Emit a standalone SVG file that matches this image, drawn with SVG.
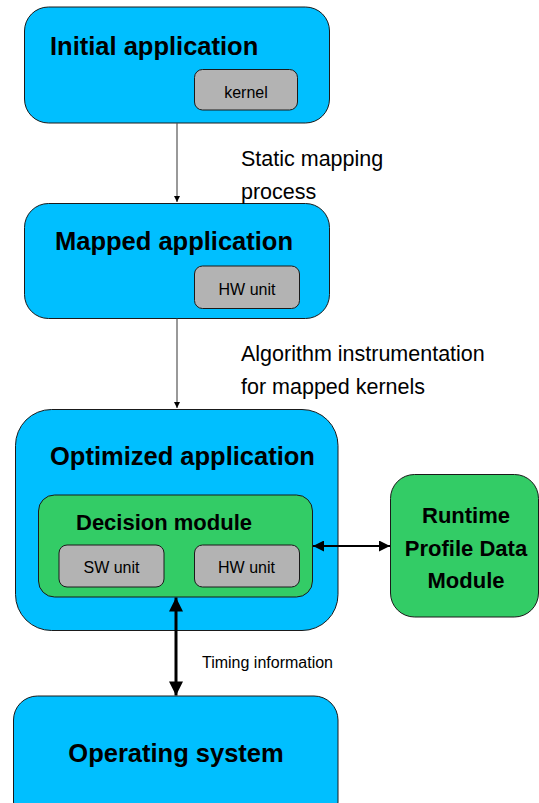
<svg xmlns="http://www.w3.org/2000/svg" width="539" height="803" viewBox="0 0 539 803">
<style>
.blue{fill:#00bfff;stroke:#1a1a1a;stroke-width:1}
.green{fill:#33cc66;stroke:#1a1a1a;stroke-width:1}
.gray{fill:#b3b3b3;stroke:#1a1a1a;stroke-width:1}
text{font-family:"Liberation Sans",Arial,Helvetica,sans-serif;fill:#000}
.title{font-size:25.5px;font-weight:bold}
.sub{font-size:22px;font-weight:bold}
.small{font-size:16px}
.label{font-size:21.5px}
</style>
<defs>
<marker id="thin" viewBox="0 0 10 10" refX="10" refY="5" markerWidth="6" markerHeight="10" markerUnits="userSpaceOnUse" orient="auto">
<path d="M0,0 L10,5 L0,10 Z" fill="#000"/>
</marker>
<marker id="midEnd" viewBox="0 0 10 10" refX="10" refY="5" markerWidth="16" markerHeight="11" markerUnits="userSpaceOnUse" orient="auto">
<path d="M0,0 L10,5 L0,10 Z" fill="#000"/>
</marker>
<marker id="midStart" viewBox="0 0 10 10" refX="0" refY="5" markerWidth="16" markerHeight="11" markerUnits="userSpaceOnUse" orient="auto">
<path d="M10,0 L0,5 L10,10 Z" fill="#000"/>
</marker>
<marker id="bigEnd" viewBox="0 0 10 10" refX="10" refY="5" markerWidth="22" markerHeight="14" markerUnits="userSpaceOnUse" orient="auto">
<path d="M0,0 L10,5 L0,10 Z" fill="#000"/>
</marker>
<marker id="bigStart" viewBox="0 0 10 10" refX="0" refY="5" markerWidth="22" markerHeight="14" markerUnits="userSpaceOnUse" orient="auto">
<path d="M10,0 L0,5 L10,10 Z" fill="#000"/>
</marker>
</defs>

<g id="initial-application">
<rect class="blue" x="24.5" y="7" width="305" height="116" rx="24" ry="24"/>
<text class="title" x="50" y="55">Initial application</text>
</g>
<g id="kernel">
<rect class="gray" x="194.5" y="69.5" width="103" height="40.5" rx="8" ry="8"/>
<text class="small" x="246" y="97.5" text-anchor="middle">kernel</text>
</g>

<g id="mapped-application">
<rect class="blue" x="24.5" y="203.5" width="305" height="115" rx="24" ry="24"/>
<text class="title" x="55" y="249.5">Mapped application</text>
</g>
<g id="mapped-hw-unit">
<rect class="gray" x="194.5" y="266" width="105" height="42.5" rx="8" ry="8"/>
<text class="small" x="247" y="295" text-anchor="middle">HW unit</text>
</g>

<g id="optimized-application">
<rect class="blue" x="15.5" y="409.5" width="322.5" height="221" rx="36" ry="36"/>
<text class="title" x="50" y="465">Optimized application</text>
</g>
<g id="decision-module">
<rect class="green" x="38.5" y="495" width="274" height="102" rx="16" ry="16"/>
<text class="sub" x="76" y="529.5">Decision module</text>
</g>
<g id="sw-unit">
<rect class="gray" x="59" y="545" width="105" height="42" rx="8" ry="8"/>
<text class="small" x="111.5" y="573" text-anchor="middle">SW unit</text>
</g>
<g id="hw-unit">
<rect class="gray" x="194.5" y="545" width="105" height="42" rx="8" ry="8"/>
<text class="small" x="246.5" y="573" text-anchor="middle">HW unit</text>
</g>

<g id="runtime-profile-data-module">
<rect class="green" x="390.5" y="474.5" width="148" height="142.5" rx="24" ry="24"/>
<text class="sub" x="466" y="523" text-anchor="middle">Runtime</text>
<text class="sub" x="466" y="556" text-anchor="middle">Profile Data</text>
<text class="sub" x="466" y="588" text-anchor="middle">Module</text>
</g>

<g id="operating-system">
<rect class="blue" x="13.5" y="696" width="324.5" height="130" rx="24" ry="24"/>
<text class="title" x="176" y="762" text-anchor="middle">Operating system</text>
</g>

<g id="connectors">
<line x1="177" y1="123" x2="177" y2="202" stroke="#555" stroke-width="1.2" marker-end="url(#thin)"/>
<line x1="177" y1="318.5" x2="177" y2="408" stroke="#555" stroke-width="1.2" marker-end="url(#thin)"/>
<line x1="313" y1="546" x2="390" y2="546" stroke="#000" stroke-width="2" marker-start="url(#midStart)" marker-end="url(#midEnd)"/>
<line x1="176" y1="597.5" x2="176" y2="695.5" stroke="#000" stroke-width="3" marker-start="url(#bigStart)" marker-end="url(#bigEnd)"/>
<text class="label" x="241" y="166">Static mapping</text>
<text class="label" x="241" y="199">process</text>
<text class="label" x="241" y="361">Algorithm instrumentation</text>
<text class="label" x="241" y="394">for mapped kernels</text>
<text class="small" x="202" y="667.5">Timing information</text>
</g>
</svg>
